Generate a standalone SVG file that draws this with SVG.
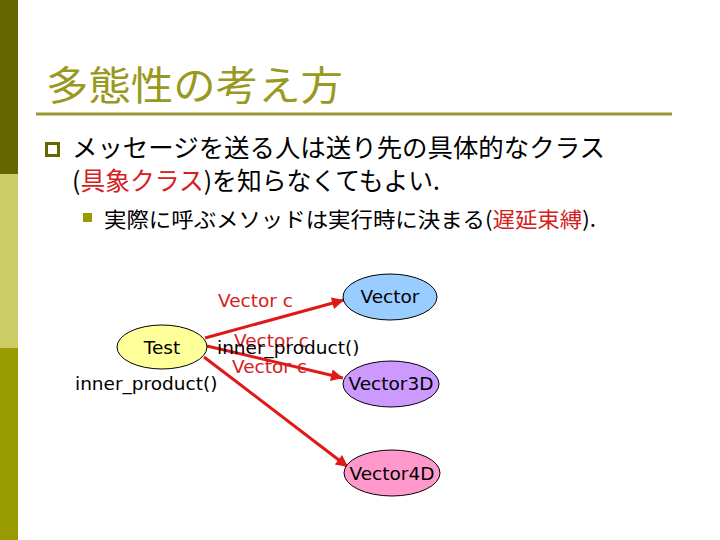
<svg xmlns="http://www.w3.org/2000/svg" width="720" height="540" viewBox="0 0 720 540">
<defs>
<style>
.jp{font-family:"Noto Sans CJK JP","Noto Sans",sans-serif;}
.lbl{font-family:"DejaVu Sans",Verdana,sans-serif;font-size:18.5px;}
.red{fill:#d42020;}
.node ellipse{stroke:#000;stroke-width:1;}
.node text{font-family:"DejaVu Sans",Verdana,sans-serif;font-size:18.5px;text-anchor:middle;fill:#000;}
.edge{stroke:#e01818;stroke-width:3;fill:none;marker-end:url(#arr);}
</style>
<marker id="arr" viewBox="0 0 10 10" refX="10" refY="5" markerWidth="4.5" markerHeight="4" orient="auto" markerUnits="strokeWidth">
<path d="M0,0 L10,5 L0,10 z" fill="#e01818"/>
</marker>
</defs>
<rect width="720" height="540" fill="#fff"/>
<g id="sidebar">
<rect x="0" y="0" width="18" height="174" fill="#666600"/>
<rect x="0" y="174" width="18" height="174" fill="#cccc66"/>
<rect x="0" y="348" width="18" height="192" fill="#999900"/>
</g>
<g id="title">
<text x="46" y="100" class="jp" font-size="40" fill="#999922" textLength="297" lengthAdjust="spacingAndGlyphs">多態性の考え方</text>
<line x1="36" y1="114" x2="672" y2="114" stroke="#999933" stroke-width="3"/>
</g>
<g id="body">
<rect x="46.5" y="143.5" width="12" height="12" fill="#fff" stroke="#666600" stroke-width="3"/>
<text x="72" y="157" class="jp" font-size="25" fill="#000" textLength="533" lengthAdjust="spacingAndGlyphs">メッセージを送る人は送り先の具体的なクラス</text>
<text x="72" y="190" class="jp" font-size="25" fill="#000" textLength="368" lengthAdjust="spacingAndGlyphs">(<tspan class="red">具象クラス</tspan>)を知らなくてもよい.</text>
<rect x="83" y="213" width="9" height="9" fill="#999900"/>
<text x="104" y="227" class="jp" font-size="21" fill="#000" textLength="492" lengthAdjust="spacingAndGlyphs">実際に呼ぶメソッドは実行時に決まる(<tspan class="red">遅延束縛</tspan>).</text>
</g>
<g id="connectors">
<line class="edge" x1="205" y1="338" x2="344" y2="300"/>
<line class="edge" x1="207" y1="346" x2="343" y2="378"/>
<line class="edge" x1="204" y1="357" x2="348" y2="467"/>
</g>
<g id="node-test" class="node">
<ellipse cx="162" cy="347" rx="45" ry="22" fill="#ffff99"/>
<text x="162" y="354">Test</text>
</g>
<g id="node-vector" class="node">
<ellipse cx="390" cy="297" rx="47" ry="23" fill="#99ccff"/>
<text x="390" y="303">Vector</text>
</g>
<g id="node-vector3d" class="node">
<ellipse cx="391" cy="384" rx="48" ry="23" fill="#cc99ff"/>
<text x="391" y="390">Vector3D</text>
</g>
<g id="node-vector4d" class="node">
<ellipse cx="392" cy="473" rx="48" ry="23" fill="#ff99cc"/>
<text x="392" y="480">Vector4D</text>
</g>
<g id="labels">
<text x="218" y="307" class="lbl red">Vector c</text>
<text x="234" y="347" class="lbl red">Vector c</text>
<text x="217" y="354" class="lbl" fill="#000">inner_product()</text>
<text x="232" y="373" class="lbl red">Vector c</text>
<text x="75" y="390" class="lbl" fill="#000">inner_product()</text>
</g>
</svg>
